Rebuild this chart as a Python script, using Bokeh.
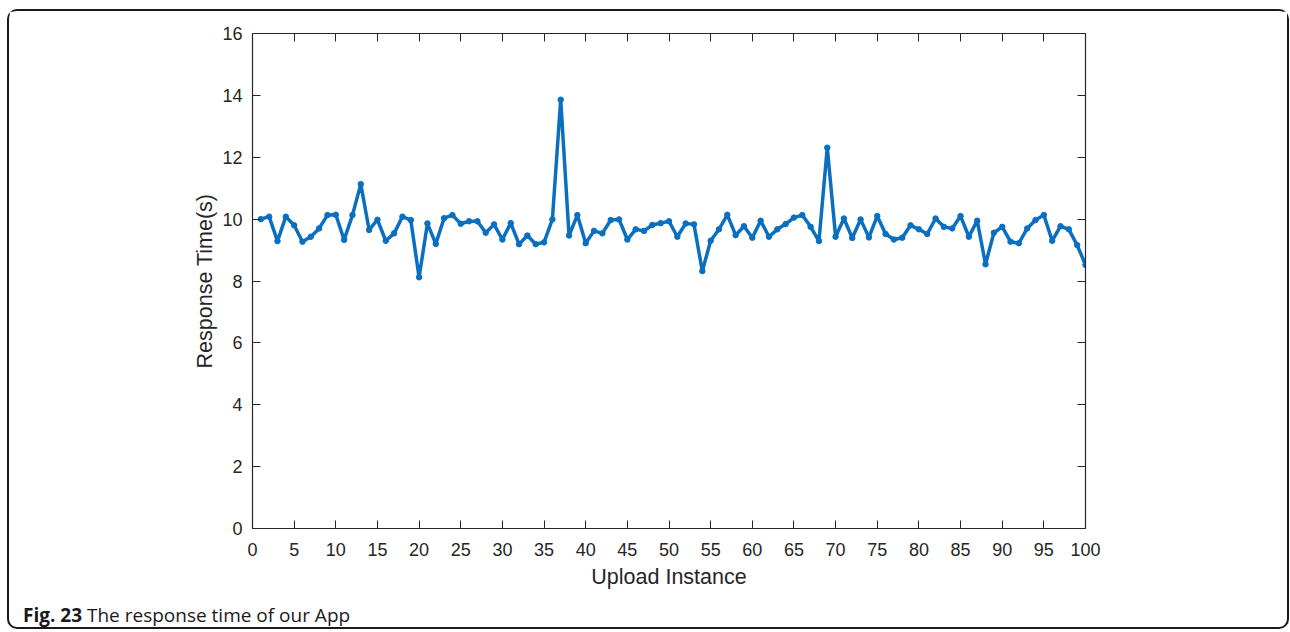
from bokeh.plotting import figure
from bokeh.models import ColumnDataSource, LinearAxis, FixedTicker, Range1d, Div
from bokeh.layouts import column
from bokeh.embed import file_html
from bokeh.resources import INLINE

upload_instance = list(range(1, 101))
response_time = [
    10.0, 10.08, 9.29, 10.08, 9.8, 9.27, 9.43, 9.7, 10.13, 10.14,
    9.33, 10.13, 11.13, 9.65, 9.98, 9.3, 9.54, 10.08, 9.97, 8.12,
    9.86, 9.2, 10.03, 10.13, 9.85, 9.93, 9.93, 9.56, 9.83, 9.34,
    9.87, 9.19, 9.47, 9.19, 9.25, 9.99, 13.86, 9.47, 10.13, 9.22,
    9.62, 9.54, 9.97, 9.99, 9.34, 9.67, 9.62, 9.81, 9.87, 9.93,
    9.43, 9.86, 9.83, 8.32, 9.3, 9.67, 10.14, 9.48, 9.77, 9.4,
    9.95, 9.43, 9.67, 9.84, 10.05, 10.13, 9.75, 9.29, 12.31, 9.43,
    10.02, 9.39, 9.99, 9.41, 10.1, 9.52, 9.34, 9.4, 9.8, 9.67,
    9.52, 10.02, 9.75, 9.7, 10.1, 9.43, 9.95, 8.54, 9.56, 9.75,
    9.27, 9.22, 9.7, 9.97, 10.13, 9.3, 9.77, 9.67, 9.16, 8.52,
]
x_ticks = list(range(0, 101, 5))
y_ticks = list(range(0, 17, 2))
x_label = "Upload Instance"
y_label = "Response Time(s)"
caption_bold = "Fig. 23"
caption_text = "The response time of our App"

# figure geometry (pixels inside the figure)
W, H = 1278, 590
FL, FR, FT, FB = 243, 1076, 22, 517

p = figure(width=W, height=H, output_backend="svg", toolbar_location=None,
           x_range=Range1d(0, 100), y_range=Range1d(0, 16),
           min_border_left=FL, min_border_right=W - FR,
           min_border_top=FT, min_border_bottom=H - FB,
           x_axis_type=None, y_axis_type=None)
p.outline_line_color = None
p.background_fill_color = "white"
p.border_fill_color = "white"

FONT = "Liberation Sans"
AX_COL = "#262626"


def style_axis(ax, labels=True):
    ax.axis_line_color = AX_COL
    ax.axis_line_width = 1.2
    ax.major_tick_line_color = AX_COL
    ax.major_tick_in = 8
    ax.major_tick_out = 0
    ax.minor_tick_line_color = None
    ax.major_label_text_font = FONT
    ax.major_label_text_font_size = "18px"
    ax.major_label_text_color = AX_COL
    ax.axis_label_text_font = FONT
    ax.axis_label_text_font_size = "21.5px"
    ax.axis_label_text_font_style = "normal"
    ax.axis_label_text_color = AX_COL
    if not labels:
        ax.major_label_text_alpha = 0
        ax.major_label_text_font_size = "1px"


xb = LinearAxis(ticker=FixedTicker(ticks=x_ticks), axis_label=x_label)
style_axis(xb)
xb.major_label_standoff = 14
xb.axis_label_standoff = 6
p.add_layout(xb, "below")

yl = LinearAxis(ticker=FixedTicker(ticks=y_ticks), axis_label=y_label)
style_axis(yl)
yl.major_label_standoff = 10
yl.axis_label_standoff = 2
p.add_layout(yl, "left")

xa = LinearAxis(ticker=FixedTicker(ticks=x_ticks))
style_axis(xa, labels=False)
p.add_layout(xa, "above")

yr = LinearAxis(ticker=FixedTicker(ticks=y_ticks))
style_axis(yr, labels=False)
p.add_layout(yr, "right")

p.xgrid.visible = False
p.ygrid.ticker = FixedTicker(ticks=y_ticks)
p.ygrid.grid_line_color = "#e3e3e3"
p.ygrid.grid_line_width = 1

src = ColumnDataSource(dict(x=upload_instance, y=response_time))
BLUE = "#0a6fc0"
p.line("x", "y", source=src, line_color=BLUE, line_width=3.5)
p.scatter("x", "y", source=src, size=5.5, fill_color=BLUE, line_color=BLUE)

cap = Div(text=(f'<div style="padding-left:14px; padding-top:2px; white-space:nowrap;">'
                f'<b>{caption_bold}</b> {caption_text}</div>'),
          width=W, height=26, margin=0,
          styles={"font-family": "'Open Sans'", "font-size": "19px",
                  "color": "#1a1a1a", "line-height": "25px"})

boxed = column(p, cap, spacing=0,
               styles={"border": "2px solid #1a1a1a", "border-radius": "10px",
                       "background": "white"})
root = column(boxed, styles={"padding-left": "7px", "padding-top": "9px"})

open("out.html", "w").write(file_html(root, INLINE))
